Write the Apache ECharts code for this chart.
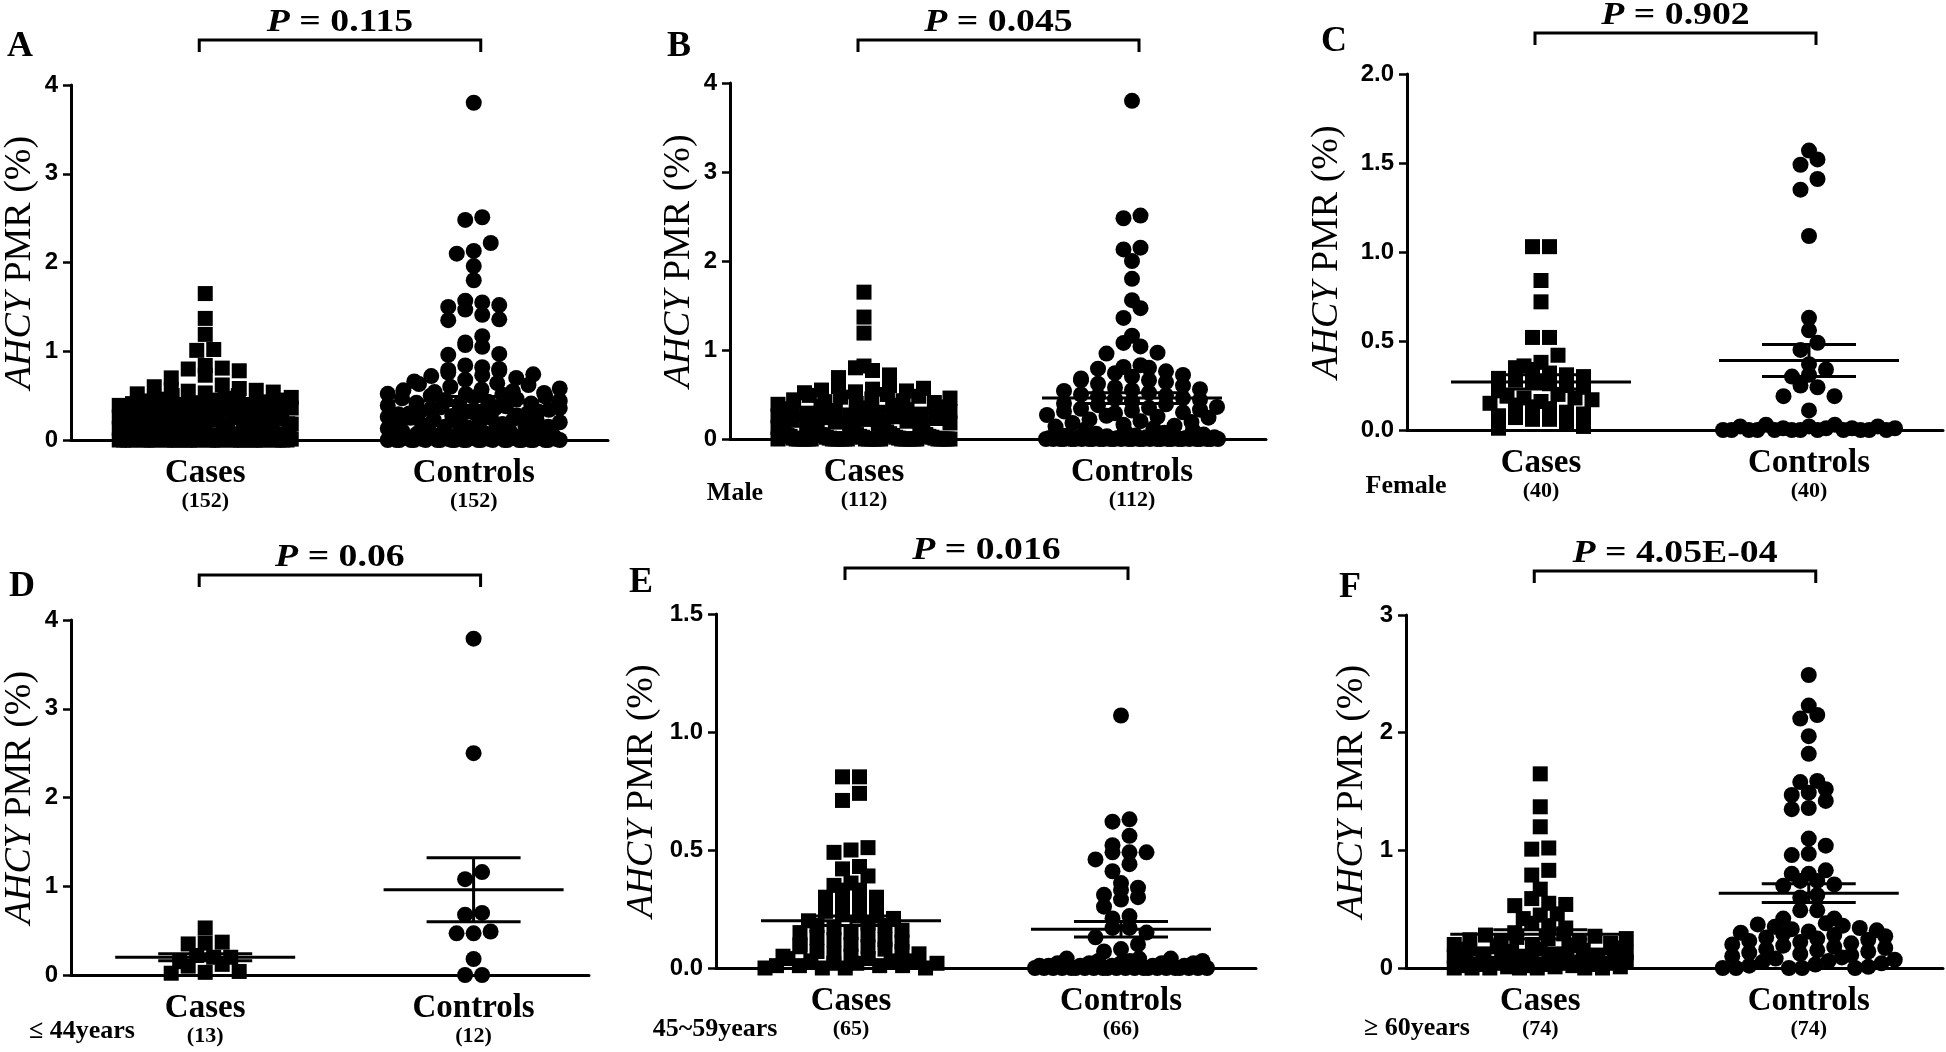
<!DOCTYPE html>
<html><head><meta charset="utf-8">
<script src="https://cdn.jsdelivr.net/npm/echarts@6/dist/echarts.min.js"></script>
<style>html,body{margin:0;padding:0;background:#fff}#c{width:1946px;height:1052px}</style>
</head><body><div id="c"></div>
<script>
// ---------- DATA ----------
const categories = ['Cases', 'Controls'];
const panelLetters = ['A', 'B', 'C', 'D', 'E', 'F'];
const groupLabels = ['', 'Male', 'Female', '\u2264 44years', '45~59years', '\u2265 60years'];
const sampleSizes = [[152, 152], [112, 112], [40, 40], [13, 12], [65, 66], [74, 74]];
const pValues = ['0.115', '0.045', '0.902', '0.06', '0.016', '4.05E-04'];
const yMaxes = [4, 4, 2, 4, 1.5, 3];
const yIntervals = [1, 1, 0.5, 1, 0.5, 1];
const yDecimals = [0, 0, 1, 0, 1, 0];
const meanValues = [[0.25, 0.44], [0.225, 0.46], [0.27, 0.39], [0.20, 0.96], [0.20, 0.164], [0.286, 0.636]];
const semValues = [[0.03, 0.05], [0.03, 0.06], [0.04, 0.09], [0.04, 0.36], [0.02, 0.033], [0.04, 0.08]];

const casesA = [1.65,1.37,1.19,1.02,1.01,0.84,0.81,0.8,0.78,0.73,0.7,
 0.62,0.6,0.58,0.57,0.56,0.55,0.54,0.53,0.52,0.5,0.5,
 0.48,0.47,0.46,0.45,0.45,0.44,0.43,0.42,0.41,0.4,0.4,0.39,0.38,0.37,0.36,0.35,0.35,0.34,0.33,0.32,0.31,0.3,0.3,
 0.29,0.28,0.28,0.27,0.26,0.26,0.25,0.24,0.24,0.23,0.22,0.22,0.21,0.2,0.2,0.19,0.18,0.18,0.17,0.16,0.16,0.15,0.14,0.14,0.13,0.12,0.12,0.11,0.1,0.1,
 0.09,0.09,0.09,0.08,0.08,0.08,0.08,0.07,0.07,0.07,
 0.07,0.06,0.06,0.06,0.06,0.05,0.05,0.05,0.05,0.05,
 0.04,0.04,0.04,0.04,0.04,0.03,0.03,0.03,0.03,0.03,
 0.03,0.02,0.02,0.02,0.02,0.02,0.02,0.01,0.01,0.01,
 0.01,0.01,0.01,0.01,0.01,0,0,0,0,0,
 0,0,0,0,0,0,0,0,0,0,
 0,0,0,0,0,0,0,0,0,0,
 0,0,0,0,0,0,0];
const controlsA = [3.8,2.51,2.48,2.22,2.13,2.1,1.96,1.8,1.57,1.55,1.52,1.5,1.47,1.41,1.36,1.35,1.17,1.1,1.07,1.05,0.97,0.96,
 0.84,0.82,0.8,0.79,0.78,0.76,0.74,0.73,0.72,0.7,0.68,0.66,0.64,0.63,0.62,0.6,
 0.58,0.57,0.56,0.55,0.54,0.53,0.52,0.52,0.51,0.5,0.49,0.48,0.47,0.46,0.45,0.44,0.43,0.42,0.41,0.4,0.39,0.38,0.37,0.36,0.36,0.35,0.34,0.33,0.32,0.32,0.31,0.3,0.3,0.3,
 0.29,0.28,0.27,0.26,0.25,0.25,0.24,0.23,0.22,0.21,0.2,0.2,0.19,0.18,0.17,0.16,0.15,0.15,0.14,0.13,0.12,0.12,0.11,0.1,0.1,0.09,0.09,0.08,0.08,0.07,0.07,0.06,0.06,0.06,0.05,0.05,0.05,0.05,0.05,0.05,
 0.04,0.04,0.04,0.04,0.03,0.03,0.03,0.03,0.02,0.02,0.02,0.02,0.01,0.01,0.01,0.01,
 0,0,0,0,0,0,0,0,0,0,0,0,0,0,0,0,0,0,0,0,0,0,0,0];
const casesB = [1.65,1.37,1.19,0.82,0.8,0.77,0.72,0.69,
 0.6,0.59,0.57,0.56,0.55,0.54,0.53,0.52,0.5,0.49,0.48,0.47,0.46,0.45,
 0.44,0.43,0.42,0.41,0.4,0.39,0.38,0.37,0.36,0.35,0.34,0.33,0.32,0.31,0.3,0.29,0.28,0.27,0.26,0.25,0.24,0.23,0.22,0.21,0.2,
 0.19,0.18,0.17,0.16,0.15,0.14,0.13,0.12,0.11,0.1,
 0.09,0.09,0.08,0.08,0.07,0.07,0.06,0.06,0.05,0.05,
 0.05,0.04,0.04,0.04,0.03,0.03,0.03,0.02,0.02,0.02,
 0.02,0.01,0.01,0.01,0.01,
 0,0,0,0,0,0,0,0,0,0,0,0,0,0,0,0,0,0,0,0,0,0,0,0,0,0,0,0,0,0];
const controlsB = [3.8,2.51,2.48,2.15,2.13,2.0,1.8,1.56,1.47,1.36,1.16,1.08,1.04,0.97,0.96,
 0.83,0.81,0.8,0.79,0.76,0.74,0.72,0.7,0.68,0.66,0.66,0.64,0.62,0.6,
 0.58,0.56,0.55,0.54,0.52,0.5,0.49,0.48,0.46,0.45,0.44,0.42,0.4,0.39,0.38,0.36,0.35,0.34,0.33,0.32,0.31,0.3,
 0.29,0.27,0.26,0.25,0.24,0.22,0.2,0.19,0.18,0.16,0.15,0.14,0.12,0.11,0.1,0.09,0.08,0.07,0.06,0.05,
 0.04,0.04,0.03,0.03,0.02,0.02,0.02,0.01,0.01,0.01,
 0,0,0,0,0,0,0,0,0,0,0,0,0,0,0,0,0,0,0,0,0,0,0,0,0,0,0,0,0,0,0];
const casesC = [1.03,1.03,0.84,0.72,0.52,0.52,0.42,0.38,0.36,0.35,0.34,0.32,0.31,0.3,0.29,0.28,0.27,0.26,0.25,0.24,
 0.22,0.2,0.19,0.18,0.18,0.17,0.16,0.15,0.14,0.13,0.12,0.1,0.09,0.08,0.07,0.06,0.06,0.04,0.02,0.01];
const controlsC = [1.57,1.52,1.49,1.41,1.35,1.09,0.63,0.56,0.49,0.45,0.37,0.34,0.31,0.3,0.25,0.24,0.19,0.19,0.11,
 0.03,0.03,0.02,0.02,0.02,0.01,0.01,0.01,0.01,0,0,0,0,0,0,0,0,0,0,0,0];
const casesD = [0.53,0.37,0.36,0.35,0.22,0.2,0.2,0.15,0.12,0.1,0.04,0.03,0.02];
const controlsD = [3.79,2.5,1.16,1.08,0.7,0.68,0.49,0.47,0.47,0.18,0,0];
const casesE = [0.81,0.81,0.74,0.71,0.51,0.5,0.49,0.43,0.42,0.39,0.36,0.35,0.33,0.33,0.3,0.3,0.28,0.27,0.26,
 0.25,0.24,0.23,0.22,0.22,0.21,0.2,0.19,0.18,0.18,
 0.17,0.16,0.15,0.15,0.14,0.13,0.12,0.12,0.11,0.1,
 0.1,0.09,0.09,0.08,0.07,0.07,0.06,0.06,0.05,0.05,
 0.04,0.04,0.03,0.03,0.03,0.02,0.02,0.02,0.01,0.01,
 0.01,0.01,0,0,0,0];
const controlsE = [1.07,0.63,0.62,0.56,0.52,0.49,0.49,0.49,0.46,0.44,0.41,0.36,0.34,0.33,0.31,0.3,0.29,0.26,0.22,0.21,
 0.17,0.17,0.15,0.13,0.1,0.08,0.07,0.04,0.04,0.04,
 0.03,0.03,0.03,0.02,0.02,0.02,0.02,0.02,0.01,0.01,
 0.01,0.01,0.01,0.01,0,0,0,0,0,0,0,0,0,0,0,0,0,0,0,0,0,0,0,0,0,0];
const casesF = [1.65,1.37,1.2,1.02,1.01,0.83,0.79,0.67,0.59,0.55,0.54,0.53,0.46,0.45,0.42,0.38,0.36,0.34,
 0.3,0.29,0.28,0.27,0.26,0.25,0.25,0.24,0.23,0.22,
 0.21,0.2,0.2,0.19,0.18,0.17,0.16,0.16,0.15,0.14,
 0.13,0.12,0.12,0.11,0.1,0.1,0.09,0.09,0.08,0.08,
 0.07,0.07,0.06,0.06,0.05,0.05,0.05,0.04,0.04,0.04,
 0.03,0.03,0.03,0.02,0.02,0.02,0.01,0.01,0.01,0,
 0,0,0,0,0,0];
const controlsF = [2.49,2.23,2.15,2.12,1.97,1.82,1.59,1.58,1.52,1.49,1.47,1.42,1.36,1.35,1.1,1.04,0.97,0.96,0.83,0.8,0.8,
 0.74,0.74,0.71,0.7,0.62,0.6,0.49,0.49,0.42,0.42,
 0.38,0.37,0.36,0.35,0.34,0.33,0.32,0.31,0.3,0.29,
 0.28,0.27,0.26,0.25,0.24,0.23,0.22,0.21,0.2,0.19,
 0.18,0.17,0.16,0.15,0.14,0.13,0.12,0.11,0.1,0.09,
 0.08,0.07,0.06,0.05,0.04,0.03,0.02,0.01,0,0,
 0,0,0];

const casesData = [casesA, casesB, casesC, casesD, casesE, casesF];
const controlsData = [controlsA, controlsB, controlsC, controlsD, controlsE, controlsF];

// ---------- LAYOUT ----------
const layout = [
  {left: 71,   top: 85,  width: 537, height: 355, xMax: 4,    nameGap: 32, bracket: 45},
  {left: 730,  top: 83,  width: 536, height: 356, xMax: 4,    nameGap: 32, bracket: 43},
  {left: 1407, top: 74,  width: 536, height: 356, xMax: 4,    nameGap: 61, bracket: 41},
  {left: 71,   top: 620, width: 518, height: 355, xMax: 3.86, nameGap: 32, bracket: 45},
  {left: 716,  top: 614, width: 540, height: 354, xMax: 4,    nameGap: 55, bracket: 46},
  {left: 1406, top: 615, width: 537, height: 353, xMax: 4,    nameGap: 35, bracket: 44}
];
const letterPos = [[20, 47], [679, 47], [1334, 42], [22, 587], [641, 583], [1350, 588]];
const groupPos = [null, [735, 493], [1406, 486], [82, 1031], [715, 1029], [1417, 1028]];

const SERIF = '"Liberation Serif","Times New Roman",serif';
const SANS = '"Liberation Sans",Arial,sans-serif';
const CAT_X = [1, 3];

function gcd(a, b) { return b ? gcd(b, a % b) : a; }
// Column-scatter arrangement: bin by value, spread points sideways within each bin
function swarm(vals, cx, xUnitPx, yUnitPx) {
  const binPx = 11, slotPx = 17, maxHalf = 86;
  const sorted = vals.slice().sort((a, b) => a - b);
  const bins = [];
  let cur = null;
  for (const v of sorted) {
    if (!cur || (v - cur.start) * yUnitPx > binPx) { cur = {start: v, items: []}; bins.push(cur); }
    cur.items.push(v);
  }
  const out = [];
  for (const b of bins) {
    const n = b.items.length;
    const sp = n > 1 ? Math.min(slotPx, 2 * maxHalf / (n - 1)) : 0;
    let k = Math.max(1, Math.round(n * 0.38));
    while (n > 1 && gcd(k, n) !== 1) k++;
    b.items.forEach((v, i) => {
      const slot = n > 2 ? (i * k) % n : i;
      out.push([cx + ((slot - (n - 1) / 2) * sp) / xUnitPx, v]);
    });
  }
  return out;
}

const grids = [], xAxes = [], yAxes = [], series = [], graphics = [];

for (let p = 0; p < 6; p++) {
  const L = layout[p];
  grids.push({left: L.left, top: L.top, width: L.width, height: L.height, containLabel: false});
  const ns = sampleSizes[p];
  xAxes.push({
    gridIndex: p, type: 'value', min: 0, max: L.xMax, interval: 1,
    axisLine: {show: true, onZero: true, lineStyle: {color: '#000', width: 3}},
    axisTick: {show: false}, splitLine: {show: false},
    axisLabel: {
      show: true, margin: 18, showMinLabel: true, showMaxLabel: true,
      formatter: v => v === CAT_X[0] ? '{a|' + categories[0] + '}\n{b|(' + ns[0] + ')}'
                   : v === CAT_X[1] ? '{a|' + categories[1] + '}\n{b|(' + ns[1] + ')}' : '',
      rich: {
        a: {fontFamily: SERIF, fontWeight: 'bold', fontSize: 33, lineHeight: 30, color: '#000'},
        b: {fontFamily: SERIF, fontWeight: 'bold', fontSize: 22, lineHeight: 27, color: '#000'}
      }
    }
  });
  const dec = yDecimals[p];
  yAxes.push({
    gridIndex: p, type: 'value', min: 0, max: yMaxes[p], interval: yIntervals[p],
    axisLine: {show: true, lineStyle: {color: '#000', width: 3}},
    axisTick: {show: true, length: 8, lineStyle: {color: '#000', width: 2.5}},
    splitLine: {show: false},
    axisLabel: {margin: 13, color: '#000', fontFamily: SANS, fontWeight: 'bold', fontSize: 24,
      formatter: v => v.toFixed(dec)},
    name: '{i|AHCY}{r| PMR (%)}', nameLocation: 'middle', nameRotate: 90, nameGap: L.nameGap,
    nameTextStyle: {fontFamily: SERIF, fontSize: 38, color: '#000',
      rich: {i: {fontFamily: SERIF, fontStyle: 'italic', fontSize: 38, color: '#000'},
             r: {fontFamily: SERIF, fontSize: 38, color: '#000'}}}
  });
  const xUnitPx = L.width / L.xMax, yUnitPx = L.height / yMaxes[p];
  series.push({
    type: 'scatter', xAxisIndex: p, yAxisIndex: p, symbol: 'rect', symbolSize: 15, clip: false,
    itemStyle: {color: '#000', opacity: 1}, silent: true, z: 2, large: false,
    data: swarm(casesData[p], CAT_X[0], xUnitPx, yUnitPx)
  });
  series.push({
    type: 'scatter', xAxisIndex: p, yAxisIndex: p, symbol: 'circle', symbolSize: 16, clip: false,
    itemStyle: {color: '#000', opacity: 1}, silent: true, z: 2, large: false,
    data: swarm(controlsData[p], CAT_X[1], xUnitPx, yUnitPx)
  });
  // mean +/- SEM
  series.push({
    type: 'custom', xAxisIndex: p, yAxisIndex: p, clip: false, silent: true, z: 4,
    data: [[CAT_X[0], meanValues[p][0], semValues[p][0]], [CAT_X[1], meanValues[p][1], semValues[p][1]]],
    renderItem: (params, api) => {
      const x = api.value(0), m = api.value(1), s = api.value(2);
      const pm = api.coord([x, m]), pt = api.coord([x, m + s]), pb = api.coord([x, m - s]);
      const st = {stroke: '#000', lineWidth: 3};
      return {type: 'group', children: [
        {type: 'line', shape: {x1: pm[0] - 90, y1: pm[1], x2: pm[0] + 90, y2: pm[1]}, style: st},
        {type: 'line', shape: {x1: pt[0] - 47, y1: pt[1], x2: pt[0] + 47, y2: pt[1]}, style: st},
        {type: 'line', shape: {x1: pb[0] - 47, y1: pb[1], x2: pb[0] + 47, y2: pb[1]}, style: st},
        {type: 'line', shape: {x1: pt[0], y1: pt[1], x2: pb[0], y2: pb[1]}, style: st}
      ]};
    }
  });
  // significance bracket + P value
  const ym = yMaxes[p], pv = pValues[p], gap = L.bracket;
  series.push({
    type: 'custom', xAxisIndex: p, yAxisIndex: p, clip: false, silent: true, z: 4,
    data: [[CAT_X[0], ym]],
    renderItem: (params, api) => {
      const a = api.coord([CAT_X[0], ym]), b = api.coord([CAT_X[1], ym]);
      const by = a[1] - gap, x1 = a[0] - 6, x2 = b[0] + 7;
      const st = {stroke: '#000', lineWidth: 3, fill: null};
      return {type: 'group', children: [
        {type: 'polyline', shape: {points: [[x1, by + 12], [x1, by], [x2, by], [x2, by + 12]]}, style: st},
        {type: 'text', x: (x1 + x2) / 2, y: by - 17, scaleX: 1.18, style: {
          text: '{i|P} = ' + pv, x: 0, y: 0,
          align: 'center', verticalAlign: 'middle', textAlign: 'center', textVerticalAlign: 'middle',
          fill: '#000', fontFamily: SERIF, fontWeight: 'bold', fontSize: 32,
          rich: {i: {fontFamily: SERIF, fontWeight: 'bold', fontStyle: 'italic', fontSize: 32, fill: '#000', color: '#000'}}
        }}
      ]};
    }
  });
  graphics.push({type: 'text', x: letterPos[p][0], y: letterPos[p][1], silent: true,
    style: {text: panelLetters[p], fill: '#000', font: 'bold 36px ' + SERIF,
      align: 'center', verticalAlign: 'middle', textAlign: 'center', textVerticalAlign: 'middle'}});
  if (groupPos[p]) {
    graphics.push({type: 'text', x: groupPos[p][0], y: groupPos[p][1], silent: true,
      style: {text: groupLabels[p], fill: '#000', font: 'bold 26px ' + SERIF,
        align: 'center', verticalAlign: 'middle', textAlign: 'center', textVerticalAlign: 'middle'}});
  }
}

const chart = echarts.init(document.getElementById('c'), null, {renderer: 'canvas', width: 1946, height: 1052});
chart.setOption({
  animation: false,
  backgroundColor: '#fff',
  grid: grids, xAxis: xAxes, yAxis: yAxes, series: series, graphic: graphics
});
</script>
</body></html>
